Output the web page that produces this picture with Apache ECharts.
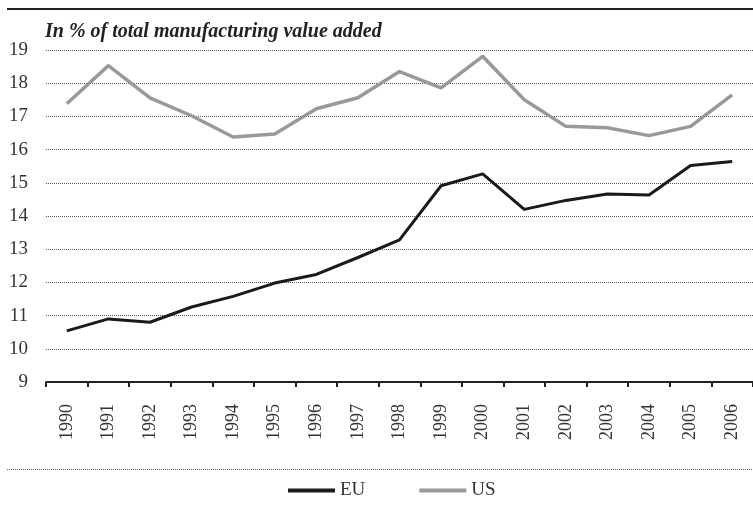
<!DOCTYPE html>
<html>
<head>
<meta charset="utf-8">
<script src="https://cdn.jsdelivr.net/npm/echarts@6/dist/echarts.min.js"></script>
<style>
html, body { margin: 0; padding: 0; background: #fff; }
#chart { width: 753px; height: 509px; }
</style>
</head>
<body>
<div id="chart"></div>
<script>
var years = ['1990', '1991', '1992', '1993', '1994', '1995', '1996', '1997', '1998',
    '1999', '2000', '2001', '2002', '2003', '2004', '2005', '2006'];
var euData = [10.54, 10.9, 10.8, 11.26, 11.58, 11.98, 12.24, 12.75, 13.28,
    14.91, 15.27, 14.2, 14.47, 14.66, 14.63, 15.52, 15.64];
var usData = [17.38, 18.53, 17.56, 17.02, 16.38, 16.47, 17.23, 17.56, 18.35,
    17.86, 18.81, 17.5, 16.7, 16.66, 16.42, 16.7, 17.65];
var seriesNames = ['EU', 'US'];
var yMin = 9, yMax = 19;

var serif = 'Liberation Serif';
var textColor = '#333';
var myChart = echarts.init(document.getElementById('chart'));

var option = {
    backgroundColor: '#fff',
    animation: false,
    grid: {
        left: 46,
        top: 50,
        height: 332,
        width: 714
    },
    graphic: [
        {
            type: 'line',
            shape: { x1: 7, y1: 9, x2: 753, y2: 9 },
            style: { stroke: '#222', lineWidth: 2 }
        },
        {
            type: 'text',
            left: 45,
            top: 22,
            style: {
                text: 'In % of total manufacturing value added',
                font: 'italic bold 20px "Liberation Serif"',
                fill: '#222'
            }
        },
        {
            type: 'line',
            shape: { x1: 7, y1: 469.5, x2: 753, y2: 469.5 },
            style: { stroke: '#666', lineWidth: 1, lineDash: [1, 1] }
        }
    ],
    legend: {
        left: 288,
        top: 481,
        icon: 'rect',
        itemWidth: 47,
        itemHeight: 4,
        itemGap: 54,
        padding: 0,
        textStyle: { fontFamily: serif, fontSize: 19, color: textColor },
        data: seriesNames
    },
    xAxis: {
        type: 'category',
        data: years,
        boundaryGap: true,
        axisLine: { show: true, lineStyle: { color: '#222', width: 2 } },
        axisTick: { show: true, length: 5, lineStyle: { color: '#222', width: 2 } },
        axisLabel: {
            rotate: 90,
            margin: 22,
            fontFamily: serif,
            fontSize: 18,
            color: textColor
        },
        splitLine: { show: false }
    },
    yAxis: {
        type: 'value',
        min: yMin,
        max: yMax,
        interval: 1,
        axisLine: { show: false },
        axisTick: { show: false },
        axisLabel: {
            margin: 18,
            fontFamily: serif,
            fontSize: 19,
            color: textColor
        },
        splitLine: {
            show: true,
            lineStyle: { color: '#555', width: 1, type: [1, 1] }
        }
    },
    series: [
        {
            name: seriesNames[0],
            type: 'line',
            data: euData,
            symbol: 'none',
            lineStyle: { color: '#1a1a1a', width: 3 },
            itemStyle: { color: '#1a1a1a' },
            z: 3
        },
        {
            name: seriesNames[1],
            type: 'line',
            data: usData,
            symbol: 'none',
            lineStyle: { color: '#999', width: 3.5 },
            itemStyle: { color: '#999' },
            z: 2
        }
    ]
};

myChart.setOption(option);
window.addEventListener('resize', function () {
    myChart.resize();
});
</script>
</body>
</html>
